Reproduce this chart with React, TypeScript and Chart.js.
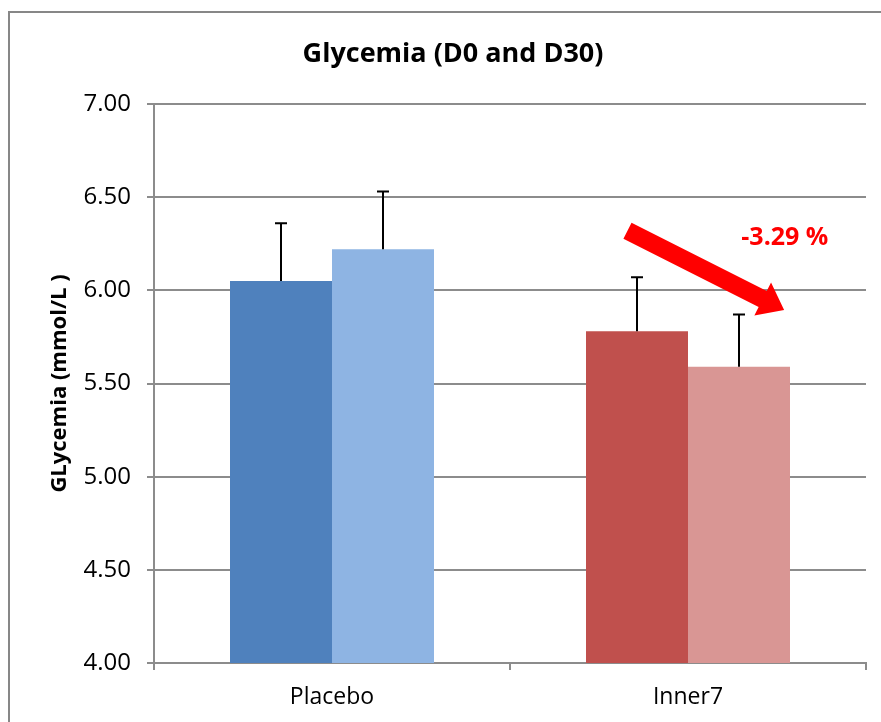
import React, { useEffect, useRef } from "react";
import { Chart, registerables } from "chart.js";

Chart.register(...registerables);

const categories = ["Placebo", "Inner7"];
const seriesNames = ["D0", "D30"];
const d0Values = [6.05, 5.78];
const d30Values = [6.22, 5.59];
const d0Errors = [0.31, 0.29];
const d30Errors = [0.31, 0.28];
const d0Colors = ["#4F81BD", "#C0504D"];
const d30Colors = ["#8EB4E3", "#D99694"];
const yTicks = [4.0, 4.5, 5.0, 5.5, 6.0, 6.5, 7.0];
const titleText = "Glycemia (D0 and D30)";
const yTitleText = "GLycemia (mmol/L )";
const changeLabel = "-3.29 %";
// arrow annotation in data units: [categoryIndex, value]
const arrowFrom = [0.83, 6.32];
const arrowTo = [1.27, 5.895];
const labelAt = [1.272, 6.28];

const FONT = "'Open Sans', 'DejaVu Sans', sans-serif";
const GRID = "#8C8C8C";

const errorBarPlugin = {
  id: "errorBars",
  afterDatasetsDraw(chart: any) {
    const ctx = chart.ctx;
    const y = chart.scales.y;
    const errs = [d0Errors, d30Errors];
    ctx.save();
    ctx.strokeStyle = "#000";
    ctx.lineWidth = 2;
    chart.data.datasets.forEach((ds: any, di: number) => {
      const meta = chart.getDatasetMeta(di);
      meta.data.forEach((bar: any, i: number) => {
        const v = ds.data[i];
        const top = y.getPixelForValue(v + errs[di][i]);
        const base = y.getPixelForValue(v);
        const x = Math.round(bar.x);
        ctx.beginPath();
        ctx.moveTo(x, base);
        ctx.lineTo(x, top);
        ctx.moveTo(x - 6, top);
        ctx.lineTo(x + 6, top);
        ctx.stroke();
      });
    });
    ctx.restore();
  },
};

const decorPlugin = {
  id: "decor",
  beforeDraw(chart: any) {
    const ctx = chart.ctx;
    ctx.save();
    ctx.fillStyle = "#fff";
    ctx.fillRect(0, 0, chart.width, chart.height);
    ctx.strokeStyle = "#878787";
    ctx.lineWidth = 2;
    ctx.strokeRect(9, 12, chart.width + 20, chart.height + 20);
    ctx.restore();
  },
  afterDraw(chart: any) {
    const ctx = chart.ctx;
    const { x, y } = chart.scales;
    const area = chart.chartArea;
    ctx.save();
    // title
    ctx.fillStyle = "#000";
    ctx.font = `bold 27px ${FONT}`;
    ctx.textAlign = "center";
    ctx.textBaseline = "middle";
    ctx.fillText(titleText, 453, 54);
    // y title
    ctx.save();
    ctx.translate(60, (area.top + area.bottom) / 2);
    ctx.rotate(-Math.PI / 2);
    ctx.font = `bold 22px ${FONT}`;
    ctx.fillText(yTitleText, 0, 0);
    ctx.restore();
    // arrow
    const x1 = x.getPixelForValue(arrowFrom[0]);
    const y1 = y.getPixelForValue(arrowFrom[1]);
    const x2 = x.getPixelForValue(arrowTo[0]);
    const y2 = y.getPixelForValue(arrowTo[1]);
    const ang = Math.atan2(y2 - y1, x2 - x1);
    const len = Math.hypot(x2 - x1, y2 - y1);
    const shaftHalf = 9;
    const headHalf = 18.5;
    const headLen = 24;
    ctx.translate(x1, y1);
    ctx.rotate(ang);
    ctx.fillStyle = "#FF0000";
    ctx.beginPath();
    ctx.moveTo(0, -shaftHalf);
    ctx.lineTo(len - headLen, -shaftHalf);
    ctx.lineTo(len - headLen, -headHalf);
    ctx.lineTo(len, 0);
    ctx.lineTo(len - headLen, headHalf);
    ctx.lineTo(len - headLen, shaftHalf);
    ctx.lineTo(0, shaftHalf);
    ctx.closePath();
    ctx.fill();
    ctx.setTransform(1, 0, 0, 1, 0, 0);
    ctx.restore();
    ctx.save();
    ctx.fillStyle = "#FF0000";
    ctx.font = `bold 25px ${FONT}`;
    ctx.textAlign = "center";
    ctx.textBaseline = "middle";
    ctx.fillText(changeLabel, x.getPixelForValue(labelAt[0]), y.getPixelForValue(labelAt[1]));
    ctx.restore();
  },
};

export default function App() {
  const ref = useRef<HTMLCanvasElement | null>(null);
  useEffect(() => {
    if (!ref.current) return;
    const chart = new Chart(ref.current, {
      type: "bar",
      data: {
        labels: categories,
        datasets: [
          {
            label: seriesNames[0],
            data: d0Values,
            backgroundColor: d0Colors,
            categoryPercentage: 0.573,
            barPercentage: 1,
          },
          {
            label: seriesNames[1],
            data: d30Values,
            backgroundColor: d30Colors,
            categoryPercentage: 0.573,
            barPercentage: 1,
          },
        ],
      },
      options: {
        responsive: false,
        animation: false,
        devicePixelRatio: 1,
        layout: { padding: { left: 0, top: 104, right: 15, bottom: 0 } },
        plugins: {
          legend: { display: false },
          title: { display: false },
          tooltip: { enabled: false },
        },
        scales: {
          x: {
            grid: {
              display: true,
              drawOnChartArea: false,
              drawTicks: true,
              tickLength: 7,
              color: GRID,
              lineWidth: 2,
              offset: true,
            },
            border: { color: GRID, width: 2 },
            ticks: {
              color: "#000",
              font: { family: FONT, size: 23 },
              padding: 14,
            },
            afterFit(s: any) {
              s.height = 59;
            },
          },
          y: {
            min: 4,
            max: 7,
            afterBuildTicks(s: any) {
              s.ticks = yTicks.map((v) => ({ value: v }));
            },
            grid: { color: GRID, lineWidth: 2, tickLength: 7 },
            border: { color: GRID, width: 2 },
            ticks: {
              color: "#000",
              font: { family: FONT, size: 24 },
              padding: 16,
              callback: (v: any) => Number(v).toFixed(2),
            },
            afterFit(s: any) {
              s.width = 154;
            },
          },
        },
      },
      plugins: [decorPlugin, errorBarPlugin],
    });
    return () => chart.destroy();
  }, []);
  return (
    <div style={{ position: "absolute", left: 0, top: 0, width: 881, height: 722 }}>
      <canvas ref={ref} width={881} height={722} style={{ width: 881, height: 722 }} />
    </div>
  );
}
